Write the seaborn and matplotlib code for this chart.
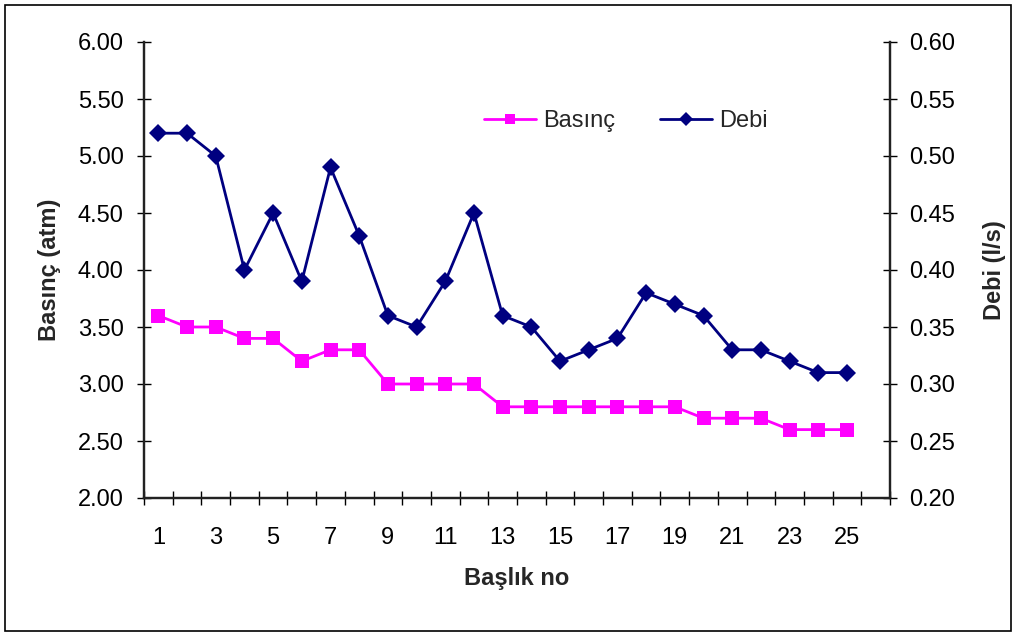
import numpy as np
import pandas as pd
import matplotlib
matplotlib.use("Agg")
import matplotlib.pyplot as plt
from matplotlib.patches import Rectangle
import seaborn as sns

# Measurements per sprinkler head
baslik_no = list(range(1, 26))
basinc = [3.6, 3.5, 3.5, 3.4, 3.4, 3.2, 3.3, 3.3, 3.0, 3.0, 3.0, 3.0,
          2.8, 2.8, 2.8, 2.8, 2.8, 2.8, 2.8, 2.7, 2.7, 2.7, 2.6, 2.6, 2.6]
debi = [0.52, 0.52, 0.50, 0.40, 0.45, 0.39, 0.49, 0.43, 0.36, 0.35, 0.39, 0.45,
        0.36, 0.35, 0.32, 0.33, 0.34, 0.38, 0.37, 0.36, 0.33, 0.33, 0.32, 0.31, 0.31]
left_ticks = [2.0, 2.5, 3.0, 3.5, 4.0, 4.5, 5.0, 5.5, 6.0]
right_ticks = [0.20, 0.25, 0.30, 0.35, 0.40, 0.45, 0.50, 0.55, 0.60]

sns.set_theme(style="white")
plt.rcParams["font.family"] = ["Liberation Sans", "DejaVu Sans"]

FS = 17

df = pd.DataFrame({"no": baslik_no, "basinc": basinc, "debi": debi})

W, H = 1016, 640
fig = plt.figure(figsize=(W / 100, H / 100), dpi=100)
fig.patch.set_facecolor("white")
ax = fig.add_axes([144 / W, 1 - 498 / H, (890 - 144) / W, (498 - 42) / H])
ax2 = ax.twinx()

sns.lineplot(data=df, x="no", y="basinc", ax=ax, color="#FF00FF", lw=2,
             marker="s", markersize=9.5, markeredgewidth=0, label="Basınç", legend=False)
sns.lineplot(data=df, x="no", y="debi", ax=ax2, color="#000080", lw=2,
             marker="D", markersize=9, markeredgewidth=0, label="Debi", legend=False)

# one empty category slot after the last head, as in a category axis
ax.set_xlim(0.5, 26.5)
ax.set_ylim(2.0, 6.0)
ax2.set_ylim(0.2, 0.6)

ax.set_yticks(left_ticks)
ax.set_yticklabels([f"{v:.2f}" for v in left_ticks])
ax2.set_yticks(right_ticks)
ax2.set_yticklabels([f"{v:.2f}" for v in right_ticks])

ax.set_xticks(baslik_no[::2])
ax.set_xticklabels([str(v) for v in baslik_no[::2]])
ax.set_xticks(np.arange(0.5, 27, 1.0), minor=True)

for a in (ax, ax2):
    for s in a.spines.values():
        s.set_color("#222222")
        s.set_linewidth(1.6)
    a.spines["top"].set_visible(False)
    a.grid(False)

ax.tick_params(axis="x", which="major", length=0, pad=21, labelsize=FS, colors="black")
ax.tick_params(axis="x", which="minor", length=10, width=1, direction="inout",
               bottom=True, color="black")
ax.tick_params(axis="y", which="major", length=10, width=1, direction="inout",
               left=True, labelsize=FS, pad=9.5, colors="black")
ax2.tick_params(axis="y", which="major", length=10, width=1, direction="inout",
                right=True, labelsize=FS, pad=8.5, colors="black")

ax.set_xlabel("Başlık no", fontsize=FS, fontweight="bold", labelpad=13)
ax.set_ylabel("Basınç (atm)", fontsize=FS, fontweight="bold", labelpad=12)
ax2.set_ylabel("Debi (l/s)", fontsize=FS, fontweight="bold", labelpad=20)

h1, l1 = ax.get_legend_handles_labels()
h2, l2 = ax2.get_legend_handles_labels()
ax2.legend(h1 + h2, l1 + l2, loc="center left", bbox_to_anchor=(463 / W, 1 - 121 / H),
           bbox_transform=fig.transFigure, ncol=2, frameon=False, fontsize=FS,
           handlelength=2.2, columnspacing=1.9, handletextpad=0.3, markerscale=0.75)

fig.patches.append(Rectangle((5 / W, 9 / H), 1006 / W, 626 / H,
                             transform=fig.transFigure, fill=False,
                             edgecolor="black", lw=1.2))

fig.savefig("out.png", dpi=100)
